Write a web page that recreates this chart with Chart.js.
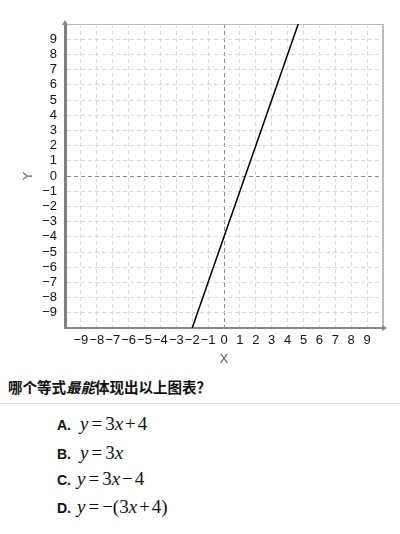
<!DOCTYPE html>
<html>
<head>
<meta charset="utf-8">
<script src="https://cdn.jsdelivr.net/npm/chart.js@4/dist/chart.umd.min.js"></script>
<style>
  body { margin: 0; background: #fff; width: 400px; height: 534px; position: relative; overflow: hidden; }
  #wrap { position: absolute; left: 0; top: 0; width: 400px; height: 372px; }
  .q { position: absolute; left: 8px; top: 376px; font: bold 14.5px "Noto Sans CJK SC", sans-serif; color: #111; white-space: nowrap; }
  .q i { font-style: italic; }
  .rule { position: absolute; left: 0; top: 403px; width: 400px; height: 1px; background: #ddd; }
  .opt { position: absolute; left: 57px; height: 20px; line-height: 20px; font: bold 14px "Liberation Sans", Arial, sans-serif; color: #111; white-space: nowrap; }
  .m { font-family: "Liberation Serif", serif; font-size: 19px; font-weight: normal; margin-left: 9px; }
  .m i { font-style: italic; }
  .eq { margin: 0 3px; }
  .pl { margin: 0 2px; }
</style>
</head>
<body>
<div id="wrap"><canvas id="graph" width="400" height="372"></canvas></div>
<div class="q">哪个等式<i>最能</i>体现出以上图表？</div>
<div class="rule"></div>
<div class="opt" style="top:413px">A.<span class="m"><i>y</i><span class="eq">=</span>3<i>x</i><span class="pl">+</span>4</span></div>
<div class="opt" style="top:442px">B.<span class="m"><i>y</i><span class="eq">=</span>3<i>x</i></span></div>
<div class="opt" style="top:468px">C.<span class="m" style="margin-left:6px"><i>y</i><span class="eq">=</span>3<i>x</i><span class="pl">−</span>4</span></div>
<div class="opt" style="top:496px">D.<span class="m" style="margin-left:6px"><i>y</i><span class="eq">=</span>−(3<i>x</i><span class="pl">+</span>4)</span></div>

<script>
// axis ranges and tick labels
const xRange = [-10, 10];
const yRange = [-10, 10];
const tickValues = [-9, -8, -7, -6, -5, -4, -3, -2, -1, 0, 1, 2, 3, 4, 5, 6, 7, 8, 9];
const tickLabels = ['−9', '−8', '−7', '−6', '−5', '−4', '−3', '−2', '−1', '0', '1', '2', '3', '4', '5', '6', '7', '8', '9'];

// the plotted line
const lineX = [-2, 0, 4.67];
const lineY = [-10, -4, 10];

function tickText(v) {
  const i = tickValues.indexOf(v);
  return i < 0 ? '' : tickLabels[i];
}

const framePlugin = {
  id: 'frame',
  beforeDatasetsDraw(chart) {
    const { ctx, chartArea: a } = chart;
    ctx.save();
    ctx.strokeStyle = '#bbb';
    ctx.lineWidth = 1;
    ctx.beginPath();
    ctx.moveTo(a.left, a.top + 0.5);
    ctx.lineTo(a.right, a.top + 0.5);
    ctx.stroke();
    ctx.lineWidth = 2;
    ctx.beginPath();
    ctx.moveTo(a.right, a.top);
    ctx.lineTo(a.right, a.bottom);
    ctx.stroke();
    ctx.restore();
  },
  afterDraw(chart) {
    const { ctx, chartArea: a } = chart;
    ctx.save();
    ctx.fillStyle = '#888';
    ctx.beginPath();
    ctx.moveTo(a.left, a.top - 4);
    ctx.lineTo(a.left - 3, a.top + 1);
    ctx.lineTo(a.left + 3, a.top + 1);
    ctx.fill();
    ctx.beginPath();
    ctx.moveTo(a.right + 4, a.bottom);
    ctx.lineTo(a.right - 1, a.bottom - 3);
    ctx.lineTo(a.right - 1, a.bottom + 3);
    ctx.fill();
    ctx.restore();
  }
};

const tickFont = { family: '"Liberation Sans Narrow", "Liberation Sans"', size: 13 };
const gridColor = ctx => (ctx.tick && ctx.tick.value === 0 ? '#888' : '#d8d8d8');

new Chart(document.getElementById('graph'), {
  type: 'scatter',
  data: {
    datasets: [{
      data: lineX.map((x, i) => ({ x: x, y: lineY[i] })),
      showLine: true,
      borderColor: '#000',
      borderWidth: 1.5,
      pointRadius: 0
    }]
  },
  options: {
    responsive: false,
    devicePixelRatio: 1,
    animation: false,
    layout: { autoPadding: false, padding: { left: 0, top: 24, right: 17, bottom: 0 } },
    plugins: { legend: { display: false }, tooltip: { enabled: false } },
    scales: {
      x: {
        type: 'linear',
        min: xRange[0],
        max: xRange[1],
        afterFit: s => { s.height = 44; },
        ticks: { stepSize: 1, autoSkip: false, maxRotation: 0, padding: 5, font: tickFont, color: '#111', callback: tickText },
        grid: { color: gridColor, drawTicks: false, lineWidth: 1 },
        border: { color: '#888', width: 2, dash: [4, 3] },
        title: { display: true, text: 'X', color: '#666', font: { family: 'DejaVu Sans', size: 13 }, padding: { top: 0, bottom: 5 } }
      },
      y: {
        type: 'linear',
        min: yRange[0],
        max: yRange[1],
        afterFit: s => { s.width = 65; },
        ticks: { stepSize: 1, autoSkip: false, padding: 8, font: tickFont, color: '#111', callback: tickText },
        grid: { color: gridColor, drawTicks: false, lineWidth: 1 },
        border: { color: '#808080', width: 3, dash: [4, 3] },
        title: { display: true, text: 'Y', color: '#666', font: { family: 'DejaVu Sans', size: 13 }, padding: { top: 21, bottom: 0 } }
      }
    }
  },
  plugins: [framePlugin]
});
</script>
</body>
</html>
